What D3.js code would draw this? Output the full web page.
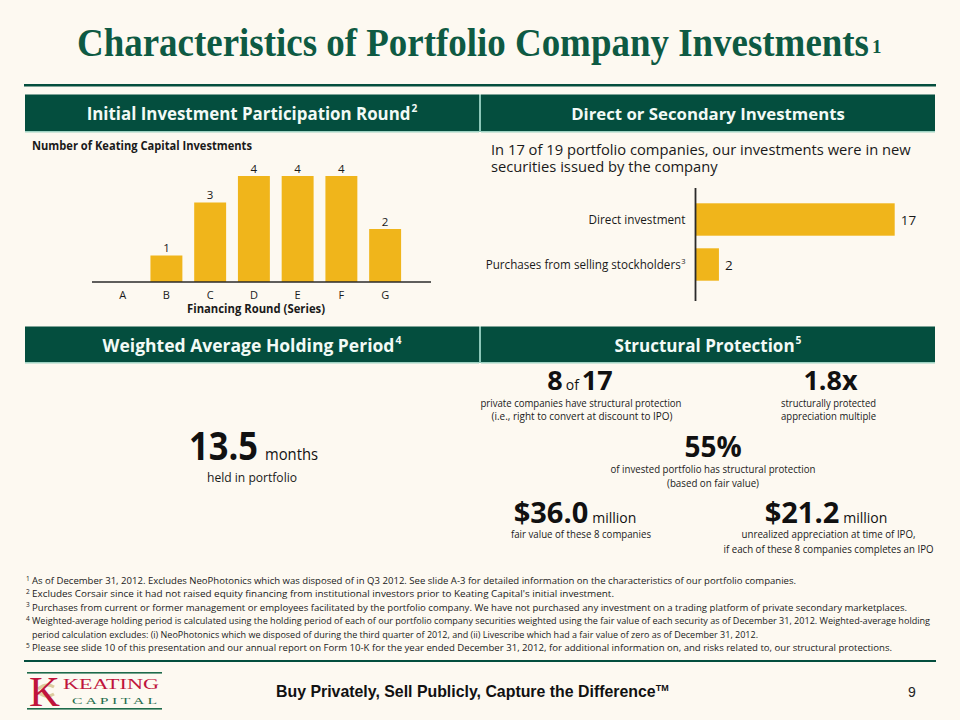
<!DOCTYPE html>
<html><head><meta charset="utf-8">
<script src="https://cdn.jsdelivr.net/npm/d3@7/dist/d3.min.js"></script>
<style>body{margin:0;background:#FDF9F1;}svg{display:block;}</style>
</head><body>
<svg id="c" width="960" height="720"></svg>
<script>
// ---- data ----
const rounds = ["A","B","C","D","E","F","G"];
const roundCounts = [0,1,3,4,4,4,2];
const invTypes = ["Direct investment","Purchases from selling stockholders"];
const invTypeSup = ["","3"];
const invCounts = [17,2];
const footnotes = [
  ["1","As of December 31, 2012. Excludes NeoPhotonics which was disposed of in Q3 2012. See slide A-3 for detailed information on the characteristics of our portfolio companies."],
  ["2","Excludes Corsair since it had not raised equity financing from institutional investors prior to Keating Capital's initial investment."],
  ["3","Purchases from current or former management or employees facilitated by the portfolio company. We have not purchased any investment on a trading platform of private secondary marketplaces."],
  ["4","Weighted-average holding period is calculated using the holding period of each of our portfolio company securities weighted using the fair value of each security as of December 31, 2012. Weighted-average holding"],
  ["","period calculation excludes: (i) NeoPhotonics which we disposed of during the third quarter of 2012, and (ii) Livescribe which had a fair value of zero as of December 31, 2012."],
  ["5","Please see slide 10 of this presentation and our annual report on Form 10-K for the year ended December 31, 2012, for additional information on, and risks related to, our structural protections."]
];
const footEnds = [796, 614, 907, 930, 758, 892];

const GREEN = "#044E3E", GOLD = "#F0B51B", TXT = "#1a1a1a", SANS = "'Open Sans', 'Noto Sans', sans-serif";
const svg = d3.select("#c");
svg.append("rect").attr("width",960).attr("height",720).attr("fill","#FDF9F1");

function fit(t, w){ const l = t.node().getComputedTextLength(); if(l>0) t.attr("font-size", parseFloat(t.attr("font-size"))*w/l); return t; }
function sq(t, w){ return t.attr("textLength", w).attr("lengthAdjust","spacingAndGlyphs"); }

// ---- title ----
const titleT = svg.append("text").attr("x",77).attr("y",56).attr("font-family","'Liberation Serif', 'Times New Roman', serif")
  .attr("font-weight","bold").attr("font-size",39).attr("fill","#0E5A43");
sq(titleT.append("tspan").text("Characteristics of Portfolio Company Investments"), 792);
titleT.append("tspan").attr("font-size",19).attr("dx",3).attr("dy",-3).text("1");

svg.append("rect").attr("x",24).attr("y",84).attr("width",912).attr("height",2.5).attr("fill",GREEN);

// ---- header bars ----
function header(x0,x1,y0,y1,label,sup){
  svg.append("rect").attr("x",x0).attr("y",y0).attr("width",x1-x0).attr("height",y1-y0).attr("fill",GREEN);
  svg.append("rect").attr("x",x0).attr("y",y1-1).attr("width",x1-x0).attr("height",1.5).attr("fill","#9FD3C4");
  const t = svg.append("text").attr("x",(x0+x1)/2).attr("y",y0+25).attr("text-anchor","middle")
    .attr("font-family",SANS).attr("font-weight","bold").attr("font-size",16).attr("fill","#F2FAF6");
  t.append("tspan").text(label);
  t.append("tspan").attr("font-size","0.6em").attr("dy","-0.7em").attr("dx","1").text(sup);
  return t;
}
fit(header(25,479,94.5,132,"Initial Investment Participation Round","2"),330);
fit(header(481,935,94.5,132,"Direct or Secondary Investments",""),274);
fit(header(25,479,326.5,363,"Weighted Average Holding Period","4"),298);
fit(header(481,935,326.5,363,"Structural Protection","5"),186);
svg.append("rect").attr("x",479).attr("y",94.5).attr("width",2).attr("height",37.5).attr("fill","#8CC7B8");
svg.append("rect").attr("x",479).attr("y",326.5).attr("width",2).attr("height",36.5).attr("fill","#8CC7B8");

// ---- left: vertical bar chart ----
sq(svg.append("text").attr("x",32).attr("y",150).attr("font-family",SANS).attr("font-weight","bold")
  .attr("font-size",11.5).attr("fill",TXT).text("Number of Keating Capital Investments"),220);

const xb = d3.scaleBand().domain(rounds).range([100.8,407]).paddingInner(0.27).paddingOuter(0.135);
const yb = d3.scaleLinear().domain([0,4]).range([282,176]);
const rd = rounds.map((r,i)=>({r, v: roundCounts[i]}));
svg.append("g").selectAll("rect").data(rd.filter(d=>d.v>0)).join("rect")
  .attr("x",d=>xb(d.r)).attr("width",xb.bandwidth()).attr("y",d=>yb(d.v)).attr("height",d=>yb(0)-yb(d.v)).attr("fill",GOLD);
svg.append("g").selectAll("text").data(rd.filter(d=>d.v>0)).join("text")
  .attr("x",d=>xb(d.r)+xb.bandwidth()/2).attr("y",d=>yb(d.v)-3.5).attr("text-anchor","middle")
  .attr("font-family",SANS).attr("font-size",11.5).attr("fill",TXT).text(d=>d.v);
const xAxis = svg.append("g").attr("transform","translate(0,282)").call(d3.axisBottom(xb).tickSize(0).tickPadding(9));
xAxis.select(".domain").remove();
xAxis.selectAll("text").attr("font-family",SANS).attr("font-size",11).attr("fill",TXT);
svg.append("line").attr("x1",92).attr("x2",431).attr("y1",282).attr("y2",282).attr("stroke","#2a2a2a").attr("stroke-width",1.6);
sq(svg.append("text").attr("x",256).attr("y",313).attr("text-anchor","middle").attr("font-family",SANS).attr("font-weight","bold")
  .attr("font-size",12).attr("fill",TXT).text("Financing Round (Series)"),138);

// ---- right: horizontal bar chart ----
const st1 = svg.append("text").attr("x",491).attr("y",155).attr("font-family",SANS).attr("font-size",14).attr("fill",TXT)
  .text("In 17 of 19 portfolio companies, our investments were in new");
fit(st1,420);
svg.append("text").attr("x",491).attr("y",172).attr("font-family",SANS).attr("font-size",st1.attr("font-size")).attr("fill",TXT)
  .text("securities issued by the company");

const xh = d3.scaleLinear().domain([0,17]).range([695.5,894.7]);
const yh = d3.scaleBand().domain(invTypes).range([197,287]).paddingInner(0.28).paddingOuter(0.14);
const hd = invTypes.map((c,i)=>({c, v: invCounts[i], s: invTypeSup[i]}));
svg.append("g").selectAll("rect").data(hd).join("rect")
  .attr("x",xh(0)).attr("y",d=>yh(d.c)).attr("height",yh.bandwidth()).attr("width",d=>xh(d.v)-xh(0)).attr("fill",GOLD);
svg.append("g").selectAll("text").data(hd).join("text")
  .attr("x",d=>xh(d.v)+6).attr("y",d=>yh(d.c)+yh.bandwidth()/2+5).attr("font-family",SANS).attr("font-size",13.5).attr("fill",TXT).text(d=>d.v);
const yAxis = svg.append("g").attr("transform",`translate(${xh(0)-10},0)`).call(d3.axisLeft(yh).tickSize(0).tickPadding(0));
yAxis.select(".domain").remove();
const labW = [97, 195];
yAxis.selectAll("text").attr("font-family",SANS).attr("font-size",11.8).attr("fill",TXT).attr("dy","0.38em")
  .each(function(d,i){ const t=d3.select(this);
    if(invTypeSup[i]){ t.text(null);
      sq(t.append("tspan").text(d), labW[i]);
      t.append("tspan").attr("font-size",7.5).attr("dy",-4.5).attr("dx",0.5).text(invTypeSup[i]);
    } else sq(t, labW[i]); });
svg.append("line").attr("x1",xh(0)).attr("x2",xh(0)).attr("y1",188).attr("y2",301).attr("stroke","#2a2a2a").attr("stroke-width",1.8);

// ---- holding period ----
sq(svg.append("text").attr("x",189).attr("y",460).attr("font-family",SANS).attr("font-weight","bold").attr("font-size",39).attr("fill","#111").text("13.5"),69);
sq(svg.append("text").attr("x",265).attr("y",460).attr("font-family",SANS).attr("font-size",17).attr("fill","#111").text("months"),53);
sq(svg.append("text").attr("x",252).attr("y",482).attr("text-anchor","middle").attr("font-family",SANS).attr("font-size",12.5).attr("fill",TXT)
  .text("held in portfolio"),90);

// ---- structural protection ----
function stat(cx, y, parts){
  const t = svg.append("text").attr("x",cx).attr("y",y).attr("text-anchor","middle").attr("font-family",SANS).attr("fill","#111");
  parts.forEach(p=>{ const s=t.append("tspan").attr("font-size",p[1]).text(p[0]); if(p[2]) s.attr("font-weight","bold"); if(p[3]) s.attr("dx",p[3]); });
  return t;
}
function sub(cx, y, txt, w){ return sq(svg.append("text").attr("x",cx).attr("y",y).attr("text-anchor","middle").attr("font-family",SANS)
  .attr("font-size",10.8).attr("fill",TXT).text(txt), w); }

stat(580, 390, [["8",27,true],["of",14,false,3],["17",27,true,3]]);
sub(581, 407, "private companies have structural protection", 201);
sub(582, 420, "(i.e., right to convert at discount to IPO)", 181);
stat(830.5, 390, [["1.8x",27,true]]);
sub(828.5, 407, "structurally protected", 95);
sub(828.5, 420, "appreciation multiple", 95);
stat(713, 456.5, [["55%",28,true]]);
sub(713, 473, "of invested portfolio has structural protection", 205);
sub(713, 486.5, "(based on fair value)", 92);
stat(575, 523, [["$36.0",29,true],["million",14,false,4]]);
sub(581, 537.5, "fair value of these 8 companies", 140);
stat(826, 523, [["$21.2",29,true],["million",14,false,4]]);
sub(828.5, 537.5, "unrealized appreciation at time of IPO,", 174);
sub(828.5, 552.5, "if each of these 8 companies completes an IPO", 210);

// ---- footnotes ----
const fy0 = 584, fdy = 13.4;
footnotes.forEach((f,i)=>{
  const y = fy0 + i*fdy;
  if(f[0]) svg.append("text").attr("x",26).attr("y",y-3.5).attr("font-family",SANS).attr("font-size",6.5).attr("fill",TXT).text(f[0]);
  sq(svg.append("text").attr("x",32).attr("y",y).attr("font-family",SANS).attr("font-size",9.3).attr("fill",TXT).text(f[1]), footEnds[i]-32);
});

// ---- footer ----
svg.append("rect").attr("x",24).attr("y",660).attr("width",912).attr("height",2).attr("fill",GREEN);
const ft = svg.append("text").attr("x",276).attr("y",697).attr("font-family","'Liberation Sans', Arial, sans-serif").attr("font-weight","bold")
  .attr("font-size",14).attr("fill","#111");
ft.append("tspan").text("Buy Privately, Sell Publicly, Capture the Difference");
ft.append("tspan").attr("font-size",9).attr("dy",-6).text("TM");
fit(ft, 395);
svg.append("text").attr("x",908).attr("y",697).attr("font-family","'Liberation Sans', Arial, sans-serif").attr("font-size",14).attr("fill","#222").text("9");

// logo
const LG = "#1E6B4B", LR = "#C0143C";
svg.append("rect").attr("x",27).attr("y",672).attr("width",135).attr("height",1.6).attr("fill",LG);
svg.append("rect").attr("x",27).attr("y",708).attr("width",135).attr("height",1.6).attr("fill",LG);
svg.append("path").attr("d","M38,689 q8,-7 16,-2 M38,692 q8,7 16,2").attr("stroke","#DCCB9F").attr("stroke-width",3).attr("fill","none");
sq(svg.append("text").attr("x",29).attr("y",706).attr("font-family","'Liberation Serif', serif").attr("font-size",42).attr("fill",LR).text("K"),31);
sq(svg.append("text").attr("x",63).attr("y",689).attr("font-family","'Liberation Serif', serif").attr("font-size",15).attr("fill",LR).text("KEATING"),96);
sq(svg.append("text").attr("x",72).attr("y",704).attr("font-family","'Liberation Serif', serif").attr("font-size",8).attr("fill",LG).text("C A P I T A L"),85);
</script>
</body></html>
